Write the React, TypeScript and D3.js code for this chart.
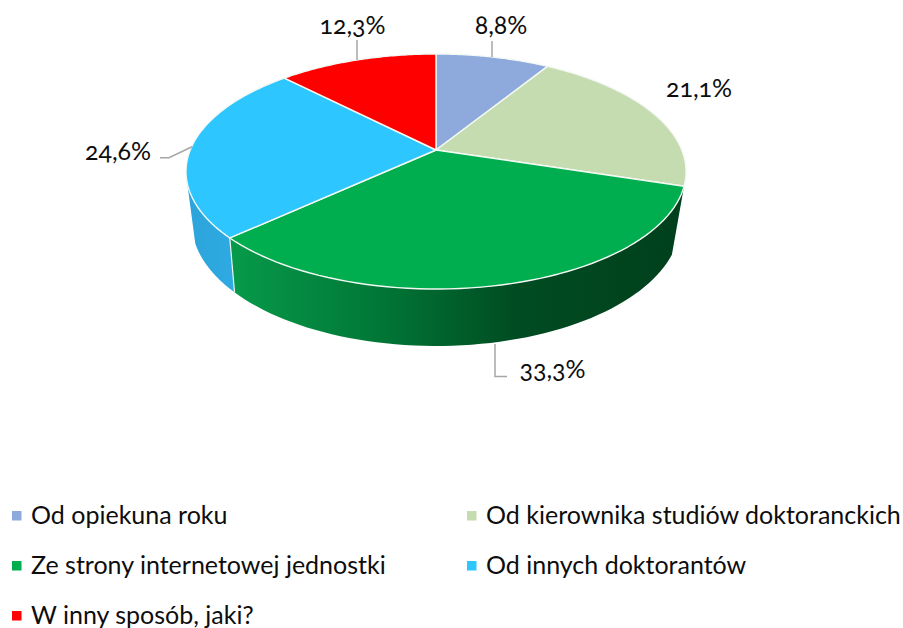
import * as d3 from 'd3';

const categories = [
  'Od opiekuna roku',
  'Od kierownika studiów doktoranckich',
  'Ze strony internetowej jednostki',
  'Od innych doktorantów',
  'W inny sposób, jaki?',
];
const values = [8.8, 21.1, 33.3, 24.6, 12.3];
const colors = ['#8ea9db', '#c5dcb0', '#00ae4f', '#2dc6ff', '#ff0000'];

const width = 903;
const height = 628;

// pie is tilted with perspective, so the centre is not the middle of the ellipse
const cx = 436;
const cy = 150;
const rx = 245.8;
const ry = 113.6;
const persp = 0.183;

const project = (angle: number) => {
  const d = 1 + persp * Math.cos(angle);
  return [cx + (rx * Math.sin(angle)) / d, cy - (ry * Math.cos(angle)) / d];
};

// bottom rim of the wall
const projectBottom = (angle: number) => {
  const d = 1 + persp * Math.cos(angle);
  return [cx + (0.977 * rx * Math.sin(angle)) / d, 200 - (1.05 * ry * Math.cos(angle)) / d];
};

const arcs = d3.pie<number>().sort(null)(values);
const deg = Math.PI / 180;

const samples = (a0: number, a1: number) =>
  d3.range(0, 61).map((i) => a0 + ((a1 - a0) * i) / 60);

const line = d3.line();

const slicePath = (a0: number, a1: number) =>
  line([[cx, cy], ...samples(a0, a1).map(project)]) + 'Z';

// top rim and bottom rim can end at different angles, the outline between them is straight
const wallPath = (t0: number, t1: number, b0: number, b1: number) =>
  line([...samples(t0, t1).map(project), ...samples(b0, b1).map(projectBottom).reverse()]) + 'Z';

const pct = (v: number) => v.toFixed(1).replace('.', ',') + '%';

const labelPos = [
  [501, 33.5],
  [699, 96.5],
  [552.5, 378],
  [118, 159.5],
  [352.5, 33.5],
];
const leaders = [
  [[492, 41], [492, 57]],
  [],
  [[495, 344], [495, 376.5], [507, 376.5]],
  [[160, 157.7], [169, 157.7], [192, 146.7]],
  [[357, 40], [357, 60]],
];
const legendPos = [
  [12, 523.5],
  [467, 523.5],
  [12, 573.5],
  [467, 573.5],
  [12, 623.5],
];

const font = 'Lato, "Open Sans", sans-serif';

export default function App() {
  const green = arcs[2];
  const blue = arcs[3];
  return (
    <svg
      width={width}
      height={height}
      viewBox={`0 0 ${width} ${height}`}
      style={{ position: 'absolute', left: 0, top: 0, background: '#fff' }}
    >
      <defs>
        <linearGradient id="wallGreen" gradientUnits="userSpaceOnUse" x1={234} x2={680} y1={0} y2={0}>
          <stop offset="0" stopColor="#07994a" />
          <stop offset="0.3" stopColor="#017a38" />
          <stop offset="0.63" stopColor="#004c22" />
          <stop offset="1" stopColor="#00401c" />
        </linearGradient>
        <linearGradient id="wallBlue" gradientUnits="userSpaceOnUse" x1={187} x2={234} y1={0} y2={0}>
          <stop offset="0" stopColor="#2ca4da" />
          <stop offset="1" stopColor="#2eaae2" />
        </linearGradient>
      </defs>

      <path
        d={wallPath(blue.startAngle, 258 * deg, blue.startAngle, 250 * deg)}
        fill="url(#wallBlue)"
      />
      <path
        d={wallPath(green.startAngle, green.endAngle, 115 * deg, green.endAngle)}
        fill="url(#wallGreen)"
      />
      <path
        d={line([project(green.endAngle), projectBottom(green.endAngle)]) as string}
        stroke="#e8f4f0"
        strokeWidth={1.2}
      />

      {arcs.map((a, i) => (
        <path
          key={categories[i]}
          d={slicePath(a.startAngle, a.endAngle)}
          fill={colors[i]}
          stroke="#f4f8f4"
          strokeWidth={1.4}
          strokeLinejoin="round"
        />
      ))}

      {leaders.map((pts, i) =>
        pts.length ? (
          <path
            key={i}
            d={line(pts as [number, number][]) as string}
            fill="none"
            stroke="#a6a6a6"
            strokeWidth={1.5}
          />
        ) : null
      )}

      {values.map((v, i) => (
        <text
          key={i}
          x={labelPos[i][0]}
          y={labelPos[i][1]}
          textAnchor="middle"
          fontFamily={font}
          fontSize={25}
          fill="#0d0d0d"
          style={{ fontVariantNumeric: 'oldstyle-nums' }}
        >
          {pct(v)}
        </text>
      ))}

      {categories.map((c, i) => (
        <g key={c}>
          <rect
            x={legendPos[i][0]}
            y={legendPos[i][1] - 12.5}
            width={9.5}
            height={9.5}
            fill={colors[i]}
          />
          <text
            x={legendPos[i][0] + 19}
            y={legendPos[i][1]}
            fontFamily={font}
            fontSize={25}
            fill="#0d0d0d"
          >
            {c}
          </text>
        </g>
      ))}
    </svg>
  );
}
